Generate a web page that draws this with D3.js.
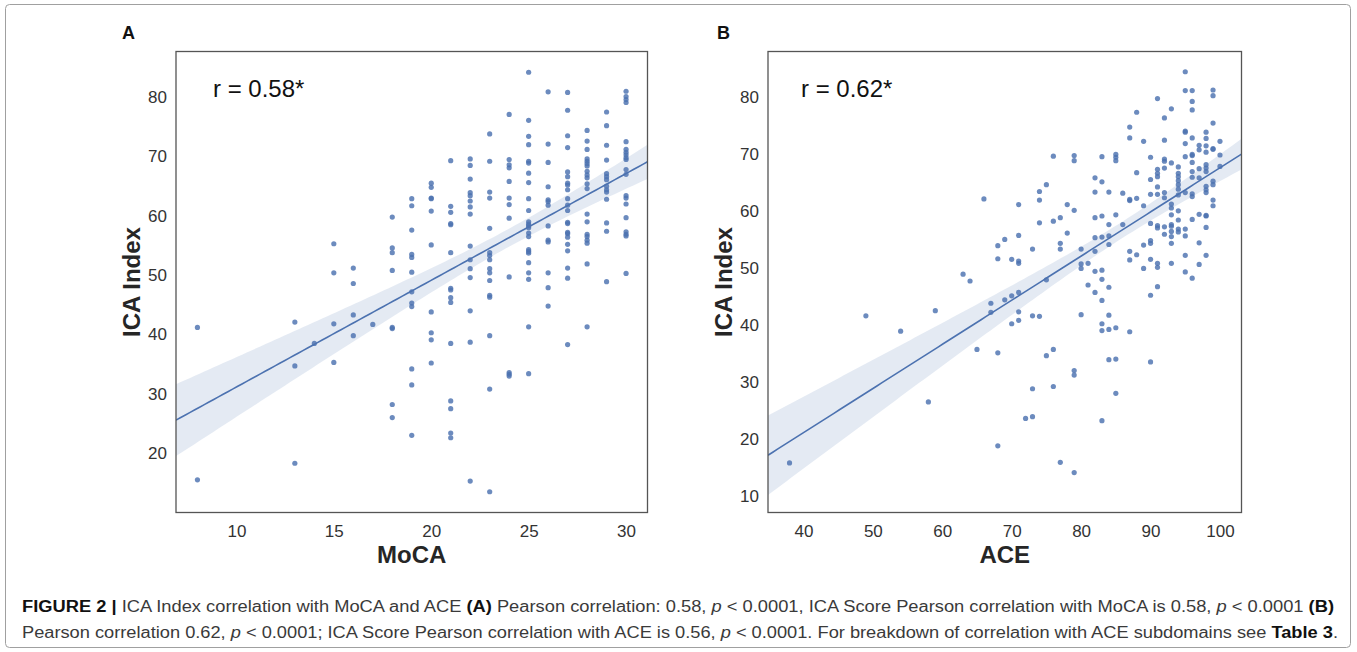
<!DOCTYPE html>
<html>
<head>
<meta charset="utf-8">
<script src="https://cdn.jsdelivr.net/npm/d3@7"></script>
<style>
  body { margin: 0; background: #fff; }
  svg { display: block; font-family: "Liberation Sans", Arial, sans-serif; }
</style>
</head>
<body>
<div id="chart"></div>
<script>
////////////////////////////////////////////////////////////////////
////////////////////////////  Data  ////////////////////////////////
// panel A: MoCA score -> ICA index values in that column
const mocaColumns = [
  [8, [41.2, 15.5]],
  [13, [42.1, 34.7, 18.3]],
  [14, [38.5]],
  [15, [55.3, 50.4, 41.8, 35.3]],
  [16, [51.2, 48.6, 43.3, 39.8]],
  [17, [41.7]],
  [18, [59.8, 54.6, 53.8, 50.8, 41.0, 41.2, 28.2, 26.0]],
  [19, [62.9, 61.7, 57.6, 53.5, 53.0, 50.5, 47.2, 45.3, 44.7, 34.2, 31.5, 23.0]],
  [20, [65.5, 64.8, 63.0, 62.9, 60.8, 55.1, 43.8, 40.3, 39.1, 35.2]],
  [21, [69.3, 61.6, 60.6, 58.7, 58.5, 53.8, 47.8, 47.5, 46.2, 45.4, 38.5, 28.8, 27.5, 23.4, 22.6]],
  [22, [69.6, 68.5, 66.2, 63.9, 63.4, 62.5, 61.5, 60.3, 54.9, 52.6, 51.1, 49.6, 44.0, 38.7, 15.3]],
  [23, [73.8, 69.2, 64.0, 63.0, 57.9, 53.8, 53.3, 52.6, 51.1, 50.4, 49.1, 46.6, 46.3, 39.8, 30.8, 13.5]],
  [24, [77.1, 69.5, 68.6, 68.1, 65.8, 63.0, 61.9, 59.6, 49.7, 33.6, 33.3, 33.0]],
  [25, [84.2, 76.1, 73.4, 72.0, 69.2, 68.9, 67.2, 65.6, 62.9, 60.9, 59.0, 58.6, 58.3, 58.0, 57.1, 56.5, 54.3, 54.0, 53.7, 52.1, 50.4, 49.3, 41.3, 33.4]],
  [26, [80.9, 72.1, 69.0, 64.9, 62.7, 62.4, 61.8, 58.3, 55.9, 55.6, 50.4, 47.9, 44.8]],
  [27, [80.8, 77.8, 73.5, 71.5, 67.4, 66.6, 65.5, 65.2, 64.4, 62.9, 61.8, 60.9, 58.9, 58.7, 57.2, 57.0, 56.4, 55.2, 54.1, 51.2, 49.5, 38.3]],
  [28, [74.4, 72.6, 71.2, 69.6, 69.2, 68.8, 68.4, 67.5, 66.9, 66.4, 65.4, 64.6, 60.3, 59.0, 56.9, 56.5, 55.9, 55.4, 51.9, 41.3]],
  [29, [77.5, 75.2, 71.9, 69.4, 67.1, 66.6, 66.1, 65.0, 64.4, 64.0, 62.8, 58.8, 57.4, 48.9]],
  [30, [81.0, 80.1, 79.6, 79.1, 72.5, 71.2, 70.7, 70.3, 69.8, 69.5, 67.8, 67.0, 63.4, 63.0, 62.0, 59.7, 57.3, 56.9, 56.6, 50.3]],
];

// panel B: ACE score -> ICA index values in that column
const aceColumns = [
  [38, [15.8]],
  [49, [41.6]],
  [54, [38.9]],
  [58, [26.5]],
  [59, [42.5]],
  [63, [48.9]],
  [64, [47.7]],
  [65, [35.7]],
  [66, [62.1]],
  [67, [43.8, 42.2]],
  [68, [53.9, 51.6, 35.1, 18.8]],
  [69, [55.0, 44.4]],
  [70, [51.5, 45.1, 40.2]],
  [71, [61.1, 55.7, 51.2, 50.8, 45.7, 42.3, 40.8]],
  [72, [23.6]],
  [73, [53.3, 41.6, 28.8, 23.9]],
  [74, [63.4, 61.9, 57.9, 41.5]],
  [75, [64.6, 47.9, 34.6]],
  [76, [69.6, 58.2, 35.7, 29.2]],
  [77, [58.8, 54.3, 53.3, 15.9]],
  [78, [61.1, 56.1]],
  [79, [69.7, 68.8, 60.1, 32.0, 31.2, 14.1]],
  [80, [53.3, 50.7, 49.9, 41.8]],
  [81, [50.8, 47.0]],
  [82, [65.8, 63.3, 58.8, 55.3, 52.9, 49.4, 45.7]],
  [83, [69.5, 65.1, 59.1, 55.4, 49.6, 48.0, 44.3, 40.2, 39.0, 23.2]],
  [84, [63.3, 57.6, 55.6, 54.1, 46.6, 41.7, 39.2, 33.9]],
  [85, [69.9, 69.4, 68.8, 59.3, 39.5, 34.0, 28.0]],
  [86, [63.1, 57.6]],
  [87, [74.7, 72.8, 62.0, 61.8, 52.9, 51.4, 38.8]],
  [88, [77.3, 66.7, 62.2, 52.3]],
  [89, [72.2, 60.9, 54.0, 49.9]],
  [90, [69.4, 65.5, 62.9, 57.8, 54.8, 54.3, 51.5, 45.2, 33.5]],
  [91, [79.7, 67.3, 66.6, 66.0, 64.2, 62.9, 57.4, 57.0, 50.8, 50.1, 46.7]],
  [92, [76.3, 72.4, 69.1, 68.7, 67.5, 63.2, 62.3, 57.2, 55.9]],
  [93, [77.9, 68.4, 61.2, 60.5, 59.3, 57.6, 57.3, 56.4, 55.5, 54.3, 50.8]],
  [94, [67.7, 66.6, 66.0, 65.3, 64.6, 63.8, 62.8, 60.0, 58.4, 56.8, 56.3]],
  [95, [84.4, 81.1, 74.0, 73.8, 71.8, 69.5, 63.2, 56.8, 55.6, 52.2, 49.3]],
  [96, [81.1, 79.2, 77.7, 72.8, 69.9, 69.7, 68.5, 66.9, 65.9, 63.0, 62.5, 58.5, 48.2]],
  [97, [71.5, 70.7, 67.4, 65.8, 59.4, 54.4, 50.6]],
  [98, [73.8, 72.7, 71.4, 70.3, 68.1, 67.5, 66.9, 64.3, 63.7, 63.2, 59.2, 59.1, 57.1, 52.2]],
  [99, [81.2, 80.2, 75.4, 70.9, 70.8, 65.2, 64.6, 61.9, 60.9]],
  [100, [72.2, 69.8, 67.8]],
];

const xTicksA = [10, 15, 20, 25, 30];
const yTicksA = [20, 30, 40, 50, 60, 70, 80];
const xTicksB = [40, 50, 60, 70, 80, 90, 100];
const yTicksB = [10, 20, 30, 40, 50, 60, 70, 80];

const panelLetters = ["A", "B"];
const rLabels = ["r = 0.58*", "r = 0.62*"];
const xLabels = ["MoCA", "ACE"];
const yLabel = "ICA Index";

// caption lines: [text, style]
const captionLine1 = [
  ["FIGURE 2 | ", "b"],
  ["ICA Index correlation with MoCA and ACE ", ""],
  ["(A)", "b"],
  [" Pearson correlation: 0.58, ", ""],
  ["p", "i"],
  [" < 0.0001, ICA Score Pearson correlation with MoCA is 0.58, ", ""],
  ["p", "i"],
  [" < 0.0001 ", ""],
  ["(B)", "b"],
];
const captionLine2 = [
  ["Pearson correlation 0.62, ", ""],
  ["p", "i"],
  [" < 0.0001; ICA Score Pearson correlation with ACE is 0.56, ", ""],
  ["p", "i"],
  [" < 0.0001. For breakdown of correlation with ACE subdomains see ", ""],
  ["Table 3", "b"],
  [".", ""],
];

////////////////////////////////////////////////////////////////////
////////////////////////////  Init  ////////////////////////////////
const width = 1357;
const height = 652;
const blue = "#4c72b0";

const svg = d3
  .select("#chart")
  .append("svg")
  .attr("width", width)
  .attr("height", height);

// outer figure border
svg
  .append("rect")
  .attr("x", 5.5)
  .attr("y", 4.5)
  .attr("width", 1345)
  .attr("height", 643)
  .attr("rx", 4)
  .attr("fill", "none")
  .attr("stroke", "#a0a0a0");

const panels = [
  {
    columns: mocaColumns,
    xTicks: xTicksA,
    yTicks: yTicksA,
    xDomain: [6.9, 31.1],
    yDomain: [10.0, 87.7],
    x0: 176,
    x1: 647.5,
  },
  {
    columns: aceColumns,
    xTicks: xTicksB,
    yTicks: yTicksB,
    xDomain: [34.9, 103.1],
    yDomain: [7.1, 87.95],
    x0: 768,
    x1: 1241.5,
  },
];

const plotTop = 51.5;
const plotBottom = 512.5;

// least squares fit + 95% CI of the mean
function fit(points) {
  const n = points.length;
  const mx = d3.mean(points, (d) => d.x);
  const my = d3.mean(points, (d) => d.y);
  const sxx = d3.sum(points, (d) => (d.x - mx) ** 2);
  const sxy = d3.sum(points, (d) => (d.x - mx) * (d.y - my));
  const b = sxy / sxx;
  const a = my - b * mx;
  const sse = d3.sum(points, (d) => (d.y - (a + b * d.x)) ** 2);
  const s = Math.sqrt(sse / (n - 2));
  const t = 1.97;
  return (x) => {
    const yh = a + b * x;
    const half = t * s * Math.sqrt(1 / n + (x - mx) ** 2 / sxx);
    return { x, y: yh, lo: yh - half, hi: yh + half };
  };
}

panels.forEach((p, i) => {
  const points = p.columns.flatMap(([x, ys]) => ys.map((y) => ({ x, y })));

  const xScale = d3.scaleLinear().domain(p.xDomain).range([p.x0, p.x1]);
  const yScale = d3.scaleLinear().domain(p.yDomain).range([plotBottom, plotTop]);

  const g = svg.append("g");

  // clip
  g.append("clipPath")
    .attr("id", "clip" + i)
    .append("rect")
    .attr("x", p.x0)
    .attr("y", plotTop)
    .attr("width", p.x1 - p.x0)
    .attr("height", plotBottom - plotTop);

  const plot = g.append("g").attr("clip-path", `url(#clip${i})`);

  // regression + band
  const model = fit(points);
  const grid = d3.range(101).map((k) => p.xDomain[0] + (k / 100) * (p.xDomain[1] - p.xDomain[0]));
  const curve = grid.map(model);

  plot
    .append("path")
    .datum(curve)
    .attr(
      "d",
      d3
        .area()
        .x((d) => xScale(d.x))
        .y0((d) => yScale(d.lo))
        .y1((d) => yScale(d.hi))
    )
    .attr("fill", blue)
    .attr("fill-opacity", 0.15);

  // scatter
  plot
    .selectAll("circle")
    .data(points)
    .join("circle")
    .attr("cx", (d) => xScale(d.x))
    .attr("cy", (d) => yScale(d.y))
    .attr("r", 2.6)
    .attr("fill", blue)
    .attr("fill-opacity", 0.82);

  plot
    .append("path")
    .datum(curve)
    .attr(
      "d",
      d3
        .line()
        .x((d) => xScale(d.x))
        .y((d) => yScale(d.y))
    )
    .attr("fill", "none")
    .attr("stroke", blue)
    .attr("stroke-width", 1.6);

  // frame
  g.append("rect")
    .attr("x", p.x0)
    .attr("y", plotTop)
    .attr("width", p.x1 - p.x0)
    .attr("height", plotBottom - plotTop)
    .attr("fill", "none")
    .attr("stroke", "#555")
    .attr("stroke-width", 1.3);

  // axes (labels only, seaborn white style)
  const xAxis = g
    .append("g")
    .attr("transform", `translate(0,${plotBottom})`)
    .call(d3.axisBottom(xScale).tickValues(p.xTicks).tickSize(0).tickPadding(12));
  const yAxis = g
    .append("g")
    .attr("transform", `translate(${p.x0},0)`)
    .call(d3.axisLeft(yScale).tickValues(p.yTicks).tickSize(0).tickPadding(9));

  [xAxis, yAxis].forEach((ax) => {
    ax.select(".domain").remove();
    ax.selectAll("text")
      .attr("fill", "#333")
      .style("font-size", "17px")
      .style("font-family", '"Liberation Sans", Arial, sans-serif');
  });

  // axis titles
  g.append("text")
    .attr("x", (p.x0 + p.x1) / 2)
    .attr("y", 563)
    .attr("text-anchor", "middle")
    .attr("font-weight", "bold")
    .attr("font-size", 24)
    .attr("fill", "#262626")
    .text(xLabels[i]);

  g.append("text")
    .attr("transform", `translate(${p.x0 - 36},${(plotTop + plotBottom) / 2}) rotate(-90)`)
    .attr("text-anchor", "middle")
    .attr("font-weight", "bold")
    .attr("font-size", 24)
    .attr("fill", "#262626")
    .text(yLabel);

  // r annotation
  g.append("text")
    .attr("x", p.x0 + (i === 0 ? 37 : 33))
    .attr("y", 97)
    .attr("font-size", 24)
    .attr("fill", "#111")
    .text(rLabels[i]);

  // panel letter
  g.append("text")
    .attr("x", i === 0 ? 122 : 717)
    .attr("y", 39)
    .attr("font-weight", "bold")
    .attr("font-size", 18)
    .attr("fill", "#111")
    .text(panelLetters[i]);
});

////////////////////////////////////////////////////////////////////
////////////////////////////  Caption  /////////////////////////////
function captionLine(segments, y, targetWidth) {
  const t = svg
    .append("text")
    .attr("x", 22)
    .attr("y", y)
    .attr("font-size", 16)
    .attr("fill", "#3a3a3a")
    .style("font-family", '"Liberation Sans Narrow", "Liberation Sans", Arial, sans-serif');
  t.selectAll("tspan")
    .data(segments)
    .join("tspan")
    .attr("font-weight", (d) => (d[1] === "b" ? "bold" : null))
    .attr("font-style", (d) => (d[1] === "i" ? "italic" : null))
    .attr("fill", (d) => (d[1] === "b" ? "#111" : null))
    .text((d) => d[0]);
  t.attr("textLength", targetWidth).attr("lengthAdjust", "spacingAndGlyphs");
}

captionLine(captionLine1, 612, 1312);
captionLine(captionLine2, 638, 1316);
</script>
</body>
</html>
